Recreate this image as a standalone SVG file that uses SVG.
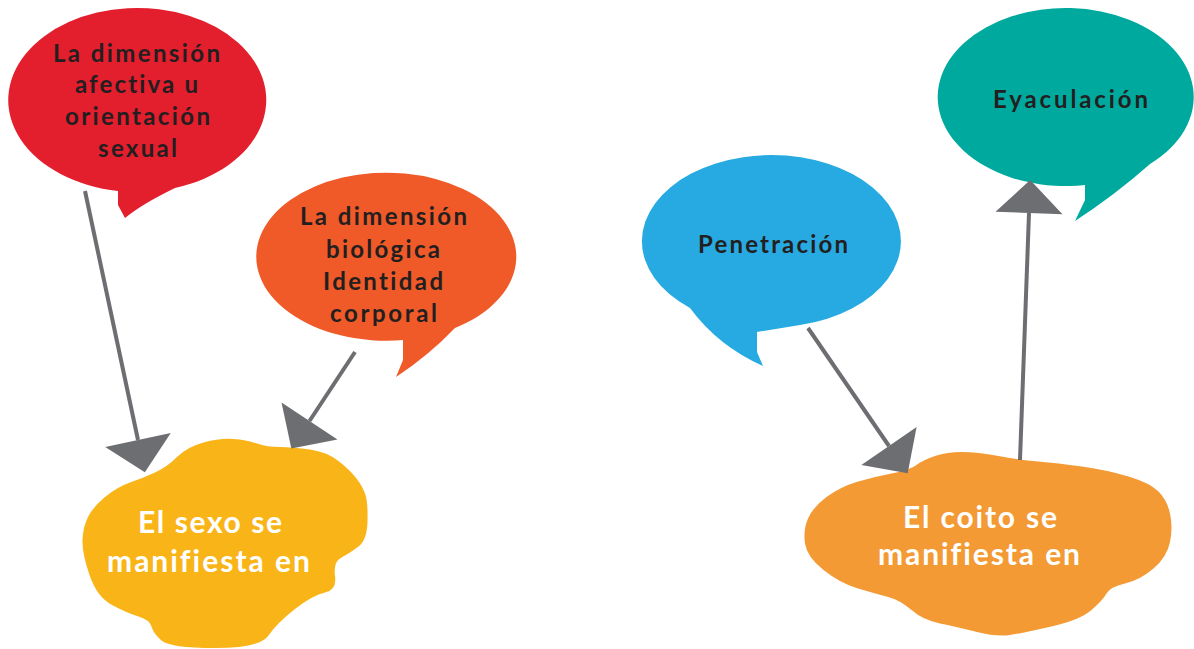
<svg xmlns="http://www.w3.org/2000/svg" width="1194" height="649" viewBox="0 0 1194 649">
<style>
.lbl{font-family:Lato,"Open Sans","Liberation Sans",sans-serif;font-weight:700;font-size:24px;fill:#231f20;font-variant-ligatures:none;font-feature-settings:"liga" 0,"clig" 0}
.cl{font-family:Lato,"Open Sans","Liberation Sans",sans-serif;font-weight:700;font-size:30px;fill:#ffffff;font-variant-ligatures:none;font-feature-settings:"liga" 0,"clig" 0}
.conn{stroke:#6d6e71;stroke-width:4;fill:none;marker-end:url(#ah)}
</style>
<defs>
<marker id="ah" markerUnits="userSpaceOnUse" markerWidth="34" markerHeight="68" refX="0" refY="33.5" orient="auto" overflow="visible">
<path d="M0,0 L33,33.5 L0,67 Z" fill="#6d6e71"/>
</marker>
</defs>
<rect width="1194" height="649" fill="#ffffff"/>
<g id="node-afectiva">
<path d="M175,188 A129 92 0 1 0 118,191 L118,205 L125,218 Q142,204 175,188 Z" fill="#e31e2d"/>
<text class="lbl" x="53" y="62" textLength="167" lengthAdjust="spacing">La dimensión</text>
<text class="lbl" x="75" y="93" textLength="123" lengthAdjust="spacing">afectiva u</text>
<text class="lbl" x="65" y="125" textLength="145" lengthAdjust="spacing">orientación</text>
<text class="lbl" x="98" y="157" textLength="79" lengthAdjust="spacing">sexual</text>
</g>
<g id="node-biologica">
<path d="M455,328 A130 84 0 1 0 403,340 L403,360 L396,377 Q428,356 455,328 Z" fill="#f05a28"/>
<text class="lbl" x="300" y="225" textLength="167" lengthAdjust="spacing">La dimensión</text>
<text class="lbl" x="326" y="258" textLength="114" lengthAdjust="spacing">biológica</text>
<text class="lbl" x="323" y="290" textLength="120" lengthAdjust="spacing">Identidad</text>
<text class="lbl" x="330" y="322" textLength="107" lengthAdjust="spacing">corporal</text>
</g>
<g id="node-sexo">
<path d="M365.5,495 Q368,503 367.5,521.5 Q367,540 358.5,546.5 Q350,553 341.5,557.5 Q333,562 335,576 Q337,590 325,592.5 Q313,595 295,609 Q277,623 268.5,635.5 Q260,648 215,648 Q170,648 161.5,640.5 Q153,633 151.5,626.5 Q150,620 138.5,616.5 Q127,613 112,605 Q97,597 89.5,575 Q82,553 82.5,540 Q83,527 88,517 Q93,507 105,497 Q117,487 130,482.5 Q143,478 155,472.5 Q167,467 177,457 Q187,447 203.5,442.5 Q220,438 233.5,439 Q247,440 257,443.5 Q267,447 280,447 Q293,447 310,449.5 Q327,452 338.5,461 Q350,470 356.5,478.5 Q363,487 365.5,495 Z" fill="#f9b418"/>
<text class="cl" x="138" y="533" textLength="144" lengthAdjust="spacing">El sexo se</text>
<text class="cl" x="107" y="572" textLength="203" lengthAdjust="spacing">manifiesta en</text>
</g>
<g id="node-penetracion">
<path d="M800,325 A129.5 86 0 1 0 690,308 Q718,346 763,366 L757,352 L757,332 Z" fill="#27aae1"/>
<text class="lbl" x="698" y="253" textLength="150" lengthAdjust="spacing">Penetración</text>
</g>
<g id="node-eyaculacion">
<path d="M1150,164 A128 89 0 1 0 1085,185 L1085,200 L1075,221 Q1115,195 1150,164 Z" fill="#00a99d"/>
<text class="lbl" x="993" y="108" textLength="155" lengthAdjust="spacing">Eyaculación</text>
</g>
<g id="node-coito">
<path d="M891.5,473.5 Q910,470 916.5,465 Q923,460 935,456 Q947,452 962,452 Q977,452 998.5,456 Q1020,460 1038.5,461.5 Q1057,463 1082,466.5 Q1107,470 1128.5,476.5 Q1150,483 1158.5,491.5 Q1167,500 1170,513.5 Q1173,527 1170,542 Q1167,557 1153.5,568.5 Q1140,580 1125,583.5 Q1110,587 1106.5,593.5 Q1103,600 1091.5,610 Q1080,620 1051.5,626.5 Q1023,633 1010,635 Q997,637 977,632 Q957,627 940,623.5 Q923,620 911.5,610 Q900,600 886.5,596.5 Q873,593 856.5,588 Q840,583 823.5,570 Q807,557 805,543.5 Q803,530 808,518.5 Q813,507 826.5,497 Q840,487 856.5,482 Q873,477 891.5,473.5 Z" fill="#f49a34"/>
<text class="cl" x="903" y="528" textLength="154" lengthAdjust="spacing">El coito se</text>
<text class="cl" x="878" y="565" textLength="202" lengthAdjust="spacing">manifiesta en</text>
</g>
<g id="connectors">
<line class="conn" x1="85" y1="191" x2="138" y2="440"/>
<line class="conn" x1="355" y1="352" x2="309.5" y2="421"/>
<line class="conn" x1="808" y1="328" x2="889" y2="446"/>
<line class="conn" x1="1020" y1="460" x2="1029" y2="213"/>
</g>
</svg>
